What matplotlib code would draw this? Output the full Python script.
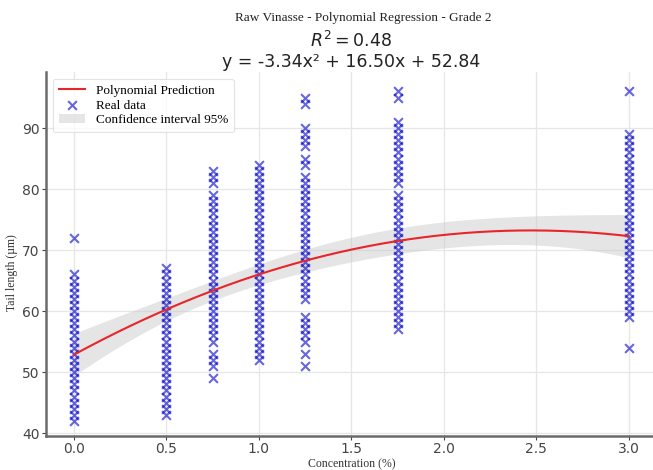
import numpy as np
import matplotlib.pyplot as plt

# Concentration levels and tail lengths
conc_levels = [0.0, 0.5, 0.75, 1.0, 1.25, 1.75, 3.0]
tail_0_00 = list(range(42, 67)) + [72]
tail_0_50 = list(range(43, 68))
tail_0_75 = [49, 51, 52, 53] + list(range(55, 80)) + [81, 82, 83]
tail_1_00 = list(range(52, 85))
tail_1_25 = [51, 53, 55, 56, 57, 58, 59] + list(range(62, 83)) + [84, 85, 87, 88, 89, 90, 94, 95]
tail_1_75 = list(range(57, 80)) + list(range(81, 92)) + [95, 96]
tail_3_00 = [54] + list(range(59, 90)) + [96]
tail_by_level = [tail_0_00, tail_0_50, tail_0_75, tail_1_00, tail_1_25, tail_1_75, tail_3_00]

# published fit: y = a x^2 + b x + c
coefs = [-3.34, 16.50, 52.84]
r_squared = 0.48

title = "Raw Vinasse - Polynomial Regression - Grade 2"
x_label = "Concentration (%)"
y_label = "Tail length (µm)"

x = np.concatenate([[c] * len(v) for c, v in zip(conc_levels, tail_by_level)])
y = np.concatenate([np.array(v, dtype=float) for v in tail_by_level])

# 95% confidence band of the mean prediction
X = np.column_stack([x ** 2, x, np.ones_like(x)])
resid = y - X @ np.array(coefs)
s2 = resid @ resid / (len(y) - 3)
xtx_inv = np.linalg.inv(X.T @ X)
x_grid = np.linspace(0, 3, 200)
Xg = np.column_stack([x_grid ** 2, x_grid, np.ones_like(x_grid)])
y_grid = Xg @ np.array(coefs)
se = np.sqrt(s2 * np.einsum("ij,jk,ik->i", Xg, xtx_inv, Xg))
lower, upper = y_grid - 1.96 * se, y_grid + 1.96 * se

fig = plt.figure(figsize=(6.53, 4.70), dpi=100)
ax = fig.add_axes([0.0705, 0.072, 0.935, 0.775])

ax.grid(True, color="#e6e6e6", linewidth=0.9)
ax.set_axisbelow(True)

ax.plot(x_grid, y_grid, color="#e8262a", linewidth=1.5, label="Polynomial Prediction", zorder=3)
ax.scatter(x, y, marker="x", color="#0000c8", alpha=0.6, s=40, linewidths=1.5,
           label="Real data", zorder=2)
ax.fill_between(x_grid, lower, upper, color="#cccccc", alpha=0.5, linewidth=0,
                label="Confidence interval 95%", zorder=1)

ax.set_xticks([0.0, 0.5, 1.0, 1.5, 2.0, 2.5, 3.0])
ax.set_yticks([40, 50, 60, 70, 80, 90])
ax.margins(x=0.05)
ax.set_ylim(39.5, 99.2)

for side in ["top", "right"]:
    ax.spines[side].set_visible(False)
for side in ["left", "bottom"]:
    ax.spines[side].set_color("#6b6b6b")
    ax.spines[side].set_linewidth(1.8)
ax.tick_params(colors="#444444", labelsize=10, length=3, width=0.8)
ax.tick_params(axis="x", pad=1.5)
ax.tick_params(axis="y", pad=1.5)

ax.set_xlabel(x_label, family="Liberation Serif", fontsize=8.5, color="#333333", va="center")
ax.set_ylabel(y_label, family="Liberation Serif", fontsize=8.5, color="#333333", va="center")
ax.xaxis.set_label_coords(0.5, -0.077)
ax.yaxis.set_label_coords(-0.055, 0.45)

leg = ax.legend(loc="upper left", prop={"family": "Liberation Serif", "size": 9.5},
                frameon=True, borderpad=0.45, labelspacing=0.2, handlelength=2.0,
                bbox_to_anchor=(0.0, 1.0))
leg.get_frame().set_edgecolor("#dddddd")
leg.get_frame().set_linewidth(0.8)

fig.text(0.557, 0.962, title, ha="center", va="center", family="Liberation Serif",
         fontsize=9.5, color="#222222")
fig.text(0.537, 0.913, r"$R^2 = $" + f"{r_squared:.2f}", ha="center", va="center",
         fontsize=12.5, color="#222222")
fig.text(0.537, 0.868, f"y = {coefs[0]:.2f}x² + {coefs[1]:.2f}x + {coefs[2]:.2f}",
         ha="center", va="center", fontsize=12.5, color="#222222")

fig.savefig("out.png", dpi=100)
